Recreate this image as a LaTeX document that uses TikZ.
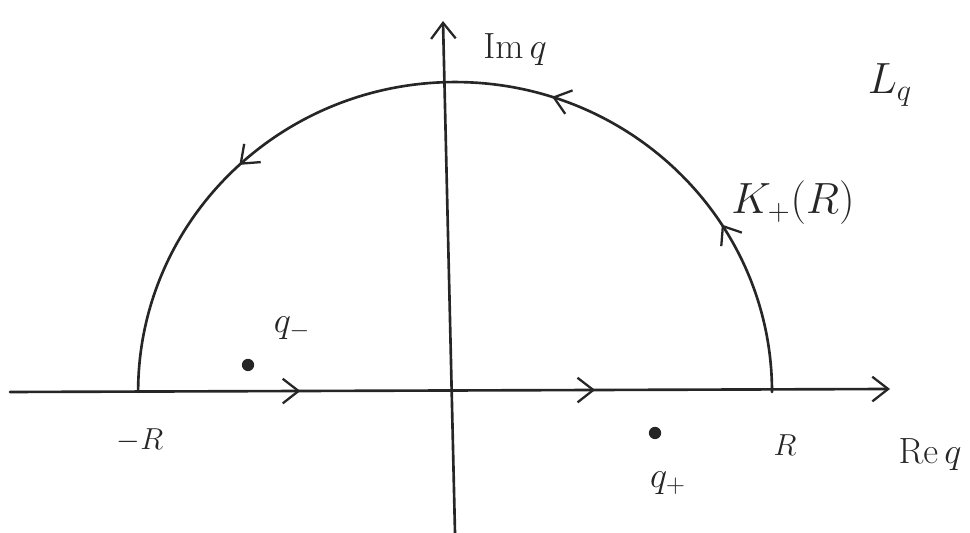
\documentclass[tikz,border=0pt]{standalone}
\usetikzlibrary{arrows.meta,decorations.markings}
\tikzset{mytip/.tip={Straight Barb[length=9pt,width=14pt,line width=1.3pt]}}
\begin{document}
\begin{tikzpicture}[x=0.02cm,y=0.02cm,
  ink/.style={draw=black!85,line width=1.5pt,line cap=round},
  lbl/.style={text=black!85,inner sep=0pt},
  dotpt/.style={circle,fill=black!85,inner sep=0pt,minimum size=7pt}]
\useasboundingbox (0,0) rectangle (970,533);
% axes
\coordinate (xl) at (10,141);
\coordinate (xr) at (890,144);
\coordinate (yb) at (455,0);
\coordinate (yt) at (443,512);
\coordinate (Rp) at (772,141);
\draw[ink,-{mytip}] (yb) -- (yt);
\draw[ink,-{mytip},postaction={decorate},decoration={markings,
   mark=at position 0.33 with {\arrow{mytip}},
   mark=at position 0.665 with {\arrow{mytip}}}] (xl) -- (xr);
% contour arc
\draw[ink,postaction={decorate},decoration={markings,
   mark=at position 0.18 with {\arrow{mytip}},
   mark=at position 0.40 with {\arrow{mytip}},
   mark=at position 0.74 with {\arrow{mytip}}}]
   (Rp) arc[start angle=0,end angle=180,x radius=6.34cm,y radius=6.2cm];
% poles
\node[dotpt] (qm) at (248,168) {};
\node[dotpt] (qp) at (655,100) {};
% labels
\node[lbl,font=\fontsize{22}{24}\selectfont] (im) at (515,483) {$\mathrm{Im}\,q$};
\node[lbl,font=\fontsize{26}{28}\selectfont] (lq) at (890,448) {$L_q$};
\node[lbl,font=\fontsize{24}{26}\selectfont] (kr) at (793,330) {$K_+(R)$};
\node[lbl,font=\fontsize{22}{24}\selectfont] (qml) at (292,205) {$q_-$};
\node[lbl,font=\fontsize{22}{24}\selectfont] (qpl) at (668,50) {$q_+$};
\node[lbl,font=\fontsize{18}{20}\selectfont] (rl) at (785,88) {$R$};
\node[lbl,font=\fontsize{18}{20}\selectfont] (mrl) at (140,93) {$-R$};
\node[lbl,font=\fontsize{22}{24}\selectfont] (rq) at (930,78) {$\mathrm{Re}\,q$};
\end{tikzpicture}
\end{document}
